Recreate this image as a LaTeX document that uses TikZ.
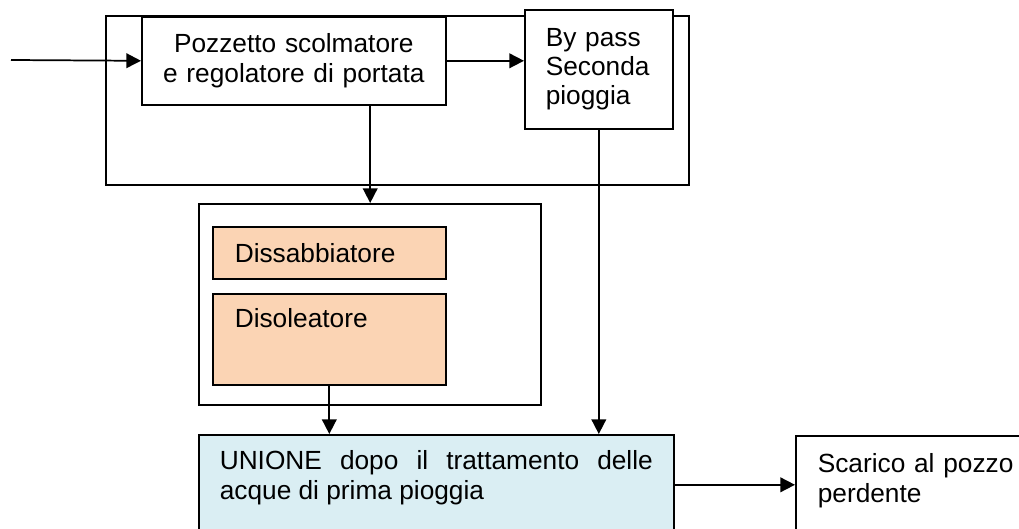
\documentclass[tikz,border=0pt]{standalone}
\usepackage{fontspec}
\setmainfont{Liberation Sans}
\usepackage{tikz}
\usetikzlibrary{arrows.meta, calc}
\definecolor{peach}{RGB}{251,212,180}
\definecolor{paleblue}{RGB}{218,238,243}
\tikzstyle{box} = [rectangle, draw=black, line width=1.2pt, fill=white, inner ysep=0pt, inner xsep=16.5pt, font=\fontsize{19.7}{22.5}\selectfont]
\tikzstyle{frame} = [rectangle, draw=black, line width=1.2pt, inner sep=0pt]
\tikzstyle{arrow} = [line width=1.3pt, -{Triangle[length=11pt, width=11pt]}]
\hyphenpenalty=10000

\begin{document}
\begin{tikzpicture}[x=0.75pt, y=-0.75pt]
     \useasboundingbox (0, 0) rectangle (1019, 528);
     \node (outer) at (105, 15) [frame, anchor=north west, minimum width=437.25pt, minimum height=126.75pt] {};
     \node (pozzetto) at (141, 16) [box, anchor=north west, inner xsep=5.25pt, text width=217.5pt, align=center, text height=27pt, text depth=39pt]
           {Pozzetto scolmatore\\e regolatore di portata};
     \node (bypass) at (524, 9) [box, anchor=north west, inner xsep=15.75pt, text width=79.5pt, align=left, text height=27.75pt, text depth=61.5pt, font=\fontsize{19.7}{21.75}\selectfont]
           {By pass\\Seconda\\pioggia};
     \node (trt) at (198, 203) [frame, anchor=north west, minimum width=256.5pt, minimum height=150.75pt] {};
     \node (dissab) at (212, 226) [box, fill=peach, anchor=north west, text width=141.75pt, align=left, text height=27pt, text depth=12pt] {Dissabbiatore};
     \node (disol) at (212, 293) [box, fill=peach, anchor=north west, text width=141.75pt, align=left, text height=25.5pt, text depth=42.75pt] {Disoleatore};
     \node (unione) at (198, 434) [box, fill=paleblue, anchor=north west, inner xsep=15.75pt, text width=324.75pt, align=justify, text height=26.25pt, text depth=48.75pt]
           {UNIONE dopo il trattamento delle acque di prima pioggia};
     \node (scarico) at (795, 435) [box, anchor=north west, text width=158pt, align=left, text height=27.75pt, text depth=45.75pt]
           {Scarico al pozzo\\perdente};
     \coordinate (inflow) at (11, 60);
     \draw[arrow] (inflow) -- (pozzetto.west);
     \draw[arrow] (pozzetto.east) -- (pozzetto.east -| bypass.west);
     \coordinate (outlet) at ($(pozzetto.south west)!0.75!(pozzetto.south east)$);
     \draw[arrow] (outlet) -- (outlet |- trt.north);
     \draw[arrow] (disol.south) -- (disol.south |- unione.north);
     \draw[arrow] (bypass.south) -- (bypass.south |- unione.north);
     \draw[arrow] (unione.east) -- (unione.east -| scarico.west);
\end{tikzpicture}
\end{document}
